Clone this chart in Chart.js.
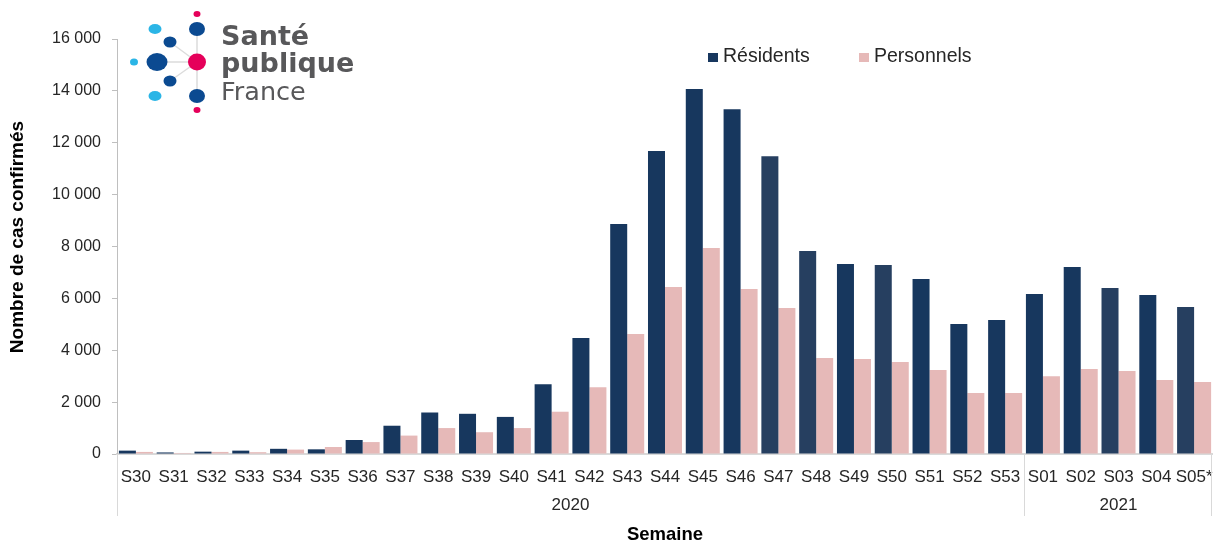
<!DOCTYPE html>
<html>
<head>
<meta charset="utf-8">
<script src="https://cdn.jsdelivr.net/npm/chart.js@4/dist/chart.umd.min.js"></script>
<style>
  html, body { margin: 0; padding: 0; background: #fff; }
  #wrap { width: 1213px; height: 544px; }
</style>
</head>
<body>
<div id="wrap"><canvas id="casChart" width="1213" height="544"></canvas></div>
<script>
// semaines
const weeks = ['S30','S31','S32','S33','S34','S35','S36','S37','S38','S39','S40','S41','S42','S43','S44','S45','S46','S47','S48','S49','S50','S51','S52','S53','S01','S02','S03','S04','S05*'];
const years = ['2020', '2021'];
const weeksIn2020 = 24;
const residents = [130, 60, 90, 130, 200, 180, 540, 1090, 1600, 1550, 1430, 2690, 4470, 8870, 11680, 14070, 13290, 11480, 7830, 7330, 7290, 6750, 5010, 5170, 6170, 7210, 6400, 6130, 5670];
const personnels = [80, 40, 80, 70, 170, 270, 460, 710, 1000, 840, 1000, 1630, 2570, 4630, 6440, 7940, 6360, 5630, 3700, 3660, 3550, 3240, 2350, 2350, 3000, 3280, 3200, 2850, 2780];
const yTicks = [0, 2000, 4000, 6000, 8000, 10000, 12000, 14000, 16000];
const yTitle = 'Nombre de cas confirmés';

const FONT = 'Arial, "Liberation Sans", sans-serif';
const lighter = [17, 18, 20, 26, 28]; // barres un peu plus claires
const navy = weeks.map((w, i) => lighter.includes(i) ? '#263f60' : '#17375e');

const fmt = v => String(v).replace(/\B(?=(\d{3})+(?!\d))/g, ' ');

// logo + legende + annees + titre y
const decor = {
    id: 'decor',
    afterDraw(chart) {
        const ctx = chart.ctx;
        const area = chart.chartArea;
        const xs = chart.scales.x;
        ctx.save();

        // titre axe y
        ctx.save();
        ctx.translate(17.5, 237);
        ctx.rotate(-Math.PI / 2);
        ctx.fillStyle = '#000';
        ctx.font = 'bold 19px ' + FONT;
        ctx.textAlign = 'center';
        ctx.textBaseline = 'middle';
        ctx.fillText(yTitle, 0, 0);
        ctx.restore();

        // separateurs des annees
        const xb = (xs.getPixelForValue(weeksIn2020 - 1) + xs.getPixelForValue(weeksIn2020)) / 2;
        ctx.strokeStyle = '#d9d9d9';
        ctx.lineWidth = 1;
        [area.left + 0.5, Math.round(xb) + 0.5, area.right - 1.5].forEach(x => {
            ctx.beginPath();
            ctx.moveTo(x, area.bottom);
            ctx.lineTo(x, 516);
            ctx.stroke();
        });
        ctx.fillStyle = '#262626';
        ctx.font = '17px ' + FONT;
        ctx.textAlign = 'center';
        ctx.textBaseline = 'middle';
        ctx.fillText(years[0], (area.left + xb) / 2, 505);
        ctx.fillText(years[1], (xb + area.right) / 2, 505);

        // legende
        const legX = [708, 859];
        ctx.textAlign = 'left';
        ctx.font = '19.5px ' + FONT;
        chart.data.datasets.forEach((ds, i) => {
            ctx.fillStyle = ds.legendColor;
            ctx.fillRect(legX[i], 53, 10, 9);
            ctx.fillStyle = '#262626';
            ctx.fillText(ds.label, legX[i] + 15, 57);
        });

        // logo Sante publique France
        ctx.strokeStyle = '#dcdcdc';
        ctx.lineWidth = 1.5;
        ctx.beginPath();
        ctx.moveTo(197, 30); ctx.lineTo(197, 96);
        ctx.moveTo(157, 62); ctx.lineTo(197, 62);
        ctx.moveTo(170, 42); ctx.lineTo(197, 62);
        ctx.moveTo(170, 81); ctx.lineTo(197, 62);
        ctx.stroke();
        const dots = [
            [197, 14, 3.5, 3, '#e5005a'],
            [197, 29, 8, 7, '#0b4a91'],
            [155, 29, 6.5, 5, '#2bb5e6'],
            [170, 42, 6.5, 5.5, '#0b4a91'],
            [134, 62, 4, 3.5, '#2bb5e6'],
            [157, 62, 10.5, 9, '#0b4a91'],
            [197, 62, 9, 8.5, '#e5005a'],
            [170, 81, 6.5, 5.5, '#0b4a91'],
            [155, 96, 6.5, 5, '#2bb5e6'],
            [197, 96, 8, 7, '#0b4a91'],
            [197, 110, 3.5, 3, '#e5005a']
        ];
        dots.forEach(d => {
            ctx.fillStyle = d[4];
            ctx.beginPath();
            ctx.ellipse(d[0], d[1], d[2], d[3], 0, 0, Math.PI * 2);
            ctx.fill();
        });
        ctx.fillStyle = '#58585a';
        ctx.textBaseline = 'alphabetic';
        ctx.font = 'bold 27px "DejaVu Sans", sans-serif';
        ctx.fillText('Santé', 221, 45);
        ctx.fillText('publique', 221, 72);
        ctx.font = '25.5px "DejaVu Sans", sans-serif';
        ctx.fillText('France', 221, 100);
        ctx.restore();
    }
};

const ctx = document.getElementById('casChart').getContext('2d');
const chart = new Chart(ctx, {
    type: 'bar',
    data: {
        labels: weeks,
        datasets: [
            {
                label: 'Résidents',
                data: residents,
                backgroundColor: navy,
                legendColor: '#17375e',
                categoryPercentage: 0.9,
                barPercentage: 1.0,
            },
            {
                label: 'Personnels',
                data: personnels,
                backgroundColor: '#e6b9b8',
                legendColor: '#e6b9b8',
                categoryPercentage: 0.9,
                barPercentage: 1.0,
            },
        ],
    },
    options: {
        responsive: false,
        animation: false,
        layout: { padding: { top: 39, right: 0, left: 0, bottom: 0 } },
        plugins: {
            legend: { display: false },
            tooltip: { enabled: false },
        },
        scales: {
            x: {
                grid: { display: false },
                border: { display: true, color: '#d9d9d9', width: 2 },
                ticks: { color: '#262626', font: { size: 17, family: FONT }, padding: 5, maxRotation: 0, autoSkip: false },
                title: {
                    display: true,
                    text: 'Semaine',
                    color: '#000',
                    font: { size: 18.5, weight: 'bold', family: FONT, lineHeight: 1 },
                    padding: { top: 0, bottom: 0 },
                },
                afterFit(s) {
                    s.height = 90;
                    s.paddingLeft = 0;
                    s.paddingRight = 0;
                },
            },
            y: {
                min: 0,
                max: 16000,
                afterBuildTicks(s) { s.ticks = yTicks.map(v => ({ value: v })); },
                grid: { drawOnChartArea: false, drawTicks: true, tickLength: 5, color: '#bfbfbf' },
                border: { display: true, color: '#bfbfbf', width: 1 },
                ticks: { color: '#262626', font: { size: 16, family: FONT }, padding: 11, callback: v => fmt(v) },
                afterFit(s) { s.width = 117; },
            },
        },
    },
    plugins: [decor],
});
</script>
</body>
</html>
